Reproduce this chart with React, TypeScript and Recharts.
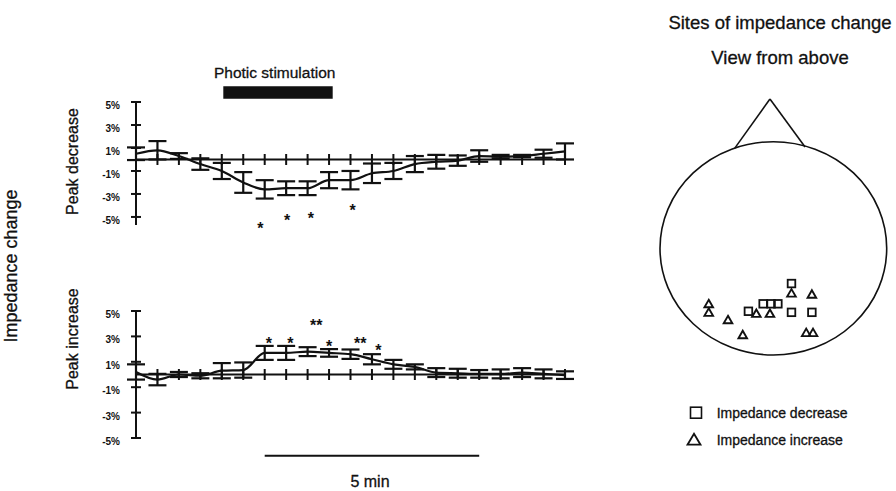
import React from 'react';
import {
  ComposedChart,
  ScatterChart,
  Line,
  ErrorBar,
  Scatter,
  XAxis,
  YAxis,
  ReferenceLine,
  ReferenceArea,
  Legend,
} from 'recharts';

// plain black ink, like the printed figure
const INK = '#111';
const FONT = 'Arial, "Liberation Sans", Helvetica, sans-serif';

// 30 s sampling steps (10 steps = 5 min)
const TIME_STEPS = [0, 1, 2, 3, 4, 5, 6, 7, 8, 9, 10, 11, 12, 13, 14, 15, 16, 17, 18, 19, 20];

// peak decrease panel, % impedance change (mean and error)
const DECREASE_MEAN = [0.5, 0.8, 0.3, -0.4, -1.0, -2.0, -2.6, -2.5, -2.5, -1.8, -1.8, -1.2, -1.0, -0.4, -0.2, -0.1, 0.3, 0.25, 0.3, 0.5, 0.7];
const DECREASE_ERR = [0.55, 0.8, 0.25, 0.5, 0.7, 0.9, 0.8, 0.6, 0.6, 0.7, 0.8, 0.85, 0.7, 0.7, 0.6, 0.45, 0.5, 0.15, 0.1, 0.35, 0.7];

// peak increase panel
const INCREASE_MEAN = [0.2, -0.4, 0.0, -0.1, 0.3, 0.35, 1.7, 1.7, 1.8, 1.7, 1.6, 1.2, 0.8, 0.6, 0.15, 0.1, 0.05, 0.05, 0.15, 0.05, -0.05];
const INCREASE_ERR = [0.6, 0.45, 0.2, 0.2, 0.6, 0.6, 0.55, 0.55, 0.35, 0.3, 0.37, 0.4, 0.35, 0.2, 0.35, 0.35, 0.3, 0.35, 0.35, 0.35, 0.3];

const Y_TICKS = [-5, -3, -1, 1, 3, 5];

// significance marks
const DECREASE_STAR_T = [5.8, 7.05, 8.15, 10.1];
const DECREASE_STAR_Y = [-5.7, -5.0, -4.85, -4.1];
const DECREASE_STAR_MARK = ['*', '*', '*', '*'];
const INCREASE_STAR_T = [6.2, 7.2, 8.4, 9.0, 10.45, 11.3];
const INCREASE_STAR_Y = [2.75, 2.75, 4.15, 2.5, 2.7, 2.2];
const INCREASE_STAR_MARK = ['*', '*', '**', '*', '**', '*'];

// photic stimulation window and the 5 min scale bar, in time steps
const STIM_WINDOW = [4.07, 9.17];
const STIM_BAR_Y = [5.28, 6.36];
const SCALE_BAR_T = [6, 16];
const SCALE_BAR_Y = -6.4;

// electrode sites, head outline = unit circle, nose up
const DEC_SITE_X = [0.16, -0.22, -0.09, -0.02, 0.04, 0.16, 0.34];
const DEC_SITE_Y = [-0.33, -0.59, -0.52, -0.52, -0.52, -0.6, -0.6];
const INC_SITE_X = [-0.57, -0.57, -0.4, -0.27, -0.15, -0.03, 0.16, 0.34, 0.29, 0.35];
const INC_SITE_Y = [-0.52, -0.6, -0.67, -0.81, -0.61, -0.61, -0.42, -0.43, -0.79, -0.79];
const NOSE_X = [-0.34, -0.03, 0.28];
const NOSE_Y = [0.94, 1.4, 0.95];

const decreaseData = TIME_STEPS.map((t, i) => ({ t, mean: DECREASE_MEAN[i], err: DECREASE_ERR[i] }));
const increaseData = TIME_STEPS.map((t, i) => ({ t, mean: INCREASE_MEAN[i], err: INCREASE_ERR[i] }));
const baseTicks = TIME_STEPS.filter((t) => t > 0).map((t) => ({ t, zero: 0 }));
const decreaseStars = DECREASE_STAR_T.map((t, i) => ({ t, y: DECREASE_STAR_Y[i], mark: DECREASE_STAR_MARK[i] }));
const increaseStars = INCREASE_STAR_T.map((t, i) => ({ t, y: INCREASE_STAR_Y[i], mark: INCREASE_STAR_MARK[i] }));
const decSites = DEC_SITE_X.map((x, i) => ({ x, y: DEC_SITE_Y[i] }));
const incSites = INC_SITE_X.map((x, i) => ({ x, y: INC_SITE_Y[i] }));

// scanned print looks heavier, a hairline stroke thickens the glyphs a bit
const textStyle = { fontFamily: FONT, fill: INK, stroke: INK, strokeWidth: 0.3 } as const;

// y tick: short line crossing the axis + bold percent label
const PercentTick: React.FC<any> = ({ x, y, payload }) => (
  <g>
    <line x1={x - 5} x2={x + 5} y1={y} y2={y} stroke={INK} strokeWidth={2} />
    <text x={x - 16} y={y + 7} textAnchor="end" fontSize={10} fontWeight="bold" fontFamily={FONT} fill={INK}>
      {`${payload.value}%`}
    </text>
  </g>
);

const BaseTick: React.FC<any> = ({ cx, cy }) => (
  <line x1={cx} x2={cx} y1={cy - 5.5} y2={cy + 5.5} stroke={INK} strokeWidth={2} />
);

const StarMark: React.FC<any> = ({ cx, cy, payload }) => (
  <text x={cx} y={cy + 9} textAnchor="middle" fontSize={16} fontWeight="bold" fontFamily={FONT} fill={INK}>
    {payload.mark}
  </text>
);

const SquareMark: React.FC<any> = ({ cx, cy }) => (
  <rect x={cx - 3.8} y={cy - 3.8} width={7.6} height={7.6} fill="none" stroke={INK} strokeWidth={1.8} />
);

const TriangleMark: React.FC<any> = ({ cx, cy }) => (
  <path d={`M${cx},${cy - 4} L${cx + 4.3},${cy + 3.5} L${cx - 4.3},${cy + 3.5} Z`} fill="none" stroke={INK} strokeWidth={1.9} />
);

const HeadOutline: React.FC<any> = ({ x, y, width, height }) => (
  <ellipse cx={x + width / 2} cy={y + height / 2} rx={width / 2} ry={height / 2} fill="none" stroke={INK} strokeWidth={1.6} />
);

const SiteLegend: React.FC<any> = ({ payload }) => (
  <svg width={256} height={60} style={{ display: 'block' }}>
    {(payload || []).map((entry: any, i: number) => {
      const cy = 22.7 + i * 27;
      return (
        <g key={entry.value}>
          {entry.type === 'square' ? (
            <rect x={50.5} y={cy - 5.5} width={11} height={11} fill="none" stroke={INK} strokeWidth={1.6} />
          ) : (
            <path d={`M54,${cy - 6} L60.5,${cy + 5} L47.5,${cy + 5} Z`} fill="none" stroke={INK} strokeWidth={1.8} />
          )}
          <text x={76.7} y={cy + 5} fontSize={14} style={textStyle}>
            {entry.value}
          </text>
        </g>
      );
    })}
  </svg>
);

interface PanelProps {
  data: { t: number; mean: number; err: number }[];
  stars: { t: number; y: number; mark: string }[];
  height: number;
  top: number;
  bottom: number;
  children?: React.ReactNode;
}

const Panel: React.FC<PanelProps> = ({ data, stars, height, top, bottom, children }) => (
  <ComposedChart width={600} height={height} data={data} margin={{ top, right: 35, bottom, left: 96 }}>
    <XAxis dataKey="t" type="number" domain={[0, 20]} hide />
    <YAxis
      type="number"
      domain={[-5, 5]}
      ticks={Y_TICKS}
      interval={0}
      width={40}
      tickSize={0}
      tickMargin={0}
      tickLine={false}
      axisLine={{ stroke: INK, strokeWidth: 2 }}
      tick={<PercentTick />}
    />
    <ReferenceLine y={0} stroke={INK} strokeWidth={2} />
    {children}
    <Scatter data={baseTicks} dataKey="zero" shape={<BaseTick />} isAnimationActive={false} />
    <Line dataKey="mean" type="monotone" stroke={INK} strokeWidth={2.2} dot={false} isAnimationActive={false}>
      <ErrorBar dataKey="err" width={9} stroke={INK} strokeWidth={2.2} direction="y" isAnimationActive={false} />
    </Line>
    <Scatter data={stars} dataKey="y" shape={<StarMark />} isAnimationActive={false} />
  </ComposedChart>
);

export default function App() {
  return (
    <div style={{ position: 'absolute', left: 0, top: 0, width: 896, height: 491, background: '#fff' }}>
      <div style={{ position: 'absolute', left: 0, top: 0 }}>
        <Panel data={decreaseData} stars={decreaseStars} height={250} top={102} bottom={25}>
          <ReferenceArea
            x1={STIM_WINDOW[0]}
            x2={STIM_WINDOW[1]}
            y1={STIM_BAR_Y[0]}
            y2={STIM_BAR_Y[1]}
            ifOverflow="visible"
            fill={INK}
            fillOpacity={1}
            stroke="none"
          />
        </Panel>
      </div>
      <div style={{ position: 'absolute', left: 0, top: 250 }}>
        <Panel data={increaseData} stars={increaseStars} height={241} top={61} bottom={53}>
          <ReferenceLine
            segment={[
              { x: SCALE_BAR_T[0], y: SCALE_BAR_Y },
              { x: SCALE_BAR_T[1], y: SCALE_BAR_Y },
            ]}
            ifOverflow="visible"
            stroke={INK}
            strokeWidth={2}
          />
        </Panel>
      </div>
      <div style={{ position: 'absolute', left: 640, top: 90 }}>
        <ScatterChart width={256} height={370} margin={{ top: 51.7, right: 9.3, bottom: 105, left: 20 }}>
          <XAxis dataKey="x" type="number" domain={[-1, 1]} hide />
          <YAxis dataKey="y" type="number" domain={[-1, 1]} hide />
          <ReferenceArea x1={-1} x2={1} y1={-1} y2={1} ifOverflow="visible" shape={<HeadOutline />} />
          <ReferenceLine
            segment={[
              { x: NOSE_X[0], y: NOSE_Y[0] },
              { x: NOSE_X[1], y: NOSE_Y[1] },
            ]}
            ifOverflow="visible"
            stroke={INK}
            strokeWidth={1.6}
          />
          <ReferenceLine
            segment={[
              { x: NOSE_X[1], y: NOSE_Y[1] },
              { x: NOSE_X[2], y: NOSE_Y[2] },
            ]}
            ifOverflow="visible"
            stroke={INK}
            strokeWidth={1.6}
          />
          <Scatter name="Impedance decrease" data={decSites} legendType="square" shape={<SquareMark />} isAnimationActive={false} />
          <Scatter name="Impedance increase" data={incSites} legendType="triangle" shape={<TriangleMark />} isAnimationActive={false} />
          <Legend
            layout="vertical"
            align="center"
            verticalAlign="middle"
            content={<SiteLegend />}
            wrapperStyle={{ left: 0, top: 300, width: 256, height: 60 }}
          />
        </ScatterChart>
      </div>
      <svg width={896} height={491} style={{ position: 'absolute', left: 0, top: 0, pointerEvents: 'none' }}>
        <text x={17} y={266} transform="rotate(-90 17 266)" textAnchor="middle" fontSize={18} style={textStyle}>
          Impedance change
        </text>
        <text x={78} y={161.5} transform="rotate(-90 78 161.5)" textAnchor="middle" fontSize={16} style={textStyle}>
          Peak decrease
        </text>
        <text x={78} y={339} transform="rotate(-90 78 339)" textAnchor="middle" fontSize={16} style={textStyle}>
          Peak increase
        </text>
        <text x={274.7} y={77.7} textAnchor="middle" fontSize={15.5} style={textStyle}>
          Photic stimulation
        </text>
        <text x={370} y={487} textAnchor="middle" fontSize={16} style={textStyle}>
          5 min
        </text>
        <text x={780} y={29} textAnchor="middle" fontSize={18.5} style={textStyle}>
          Sites of impedance change
        </text>
        <text x={780} y={64} textAnchor="middle" fontSize={18.5} style={textStyle}>
          View from above
        </text>
      </svg>
    </div>
  );
}
